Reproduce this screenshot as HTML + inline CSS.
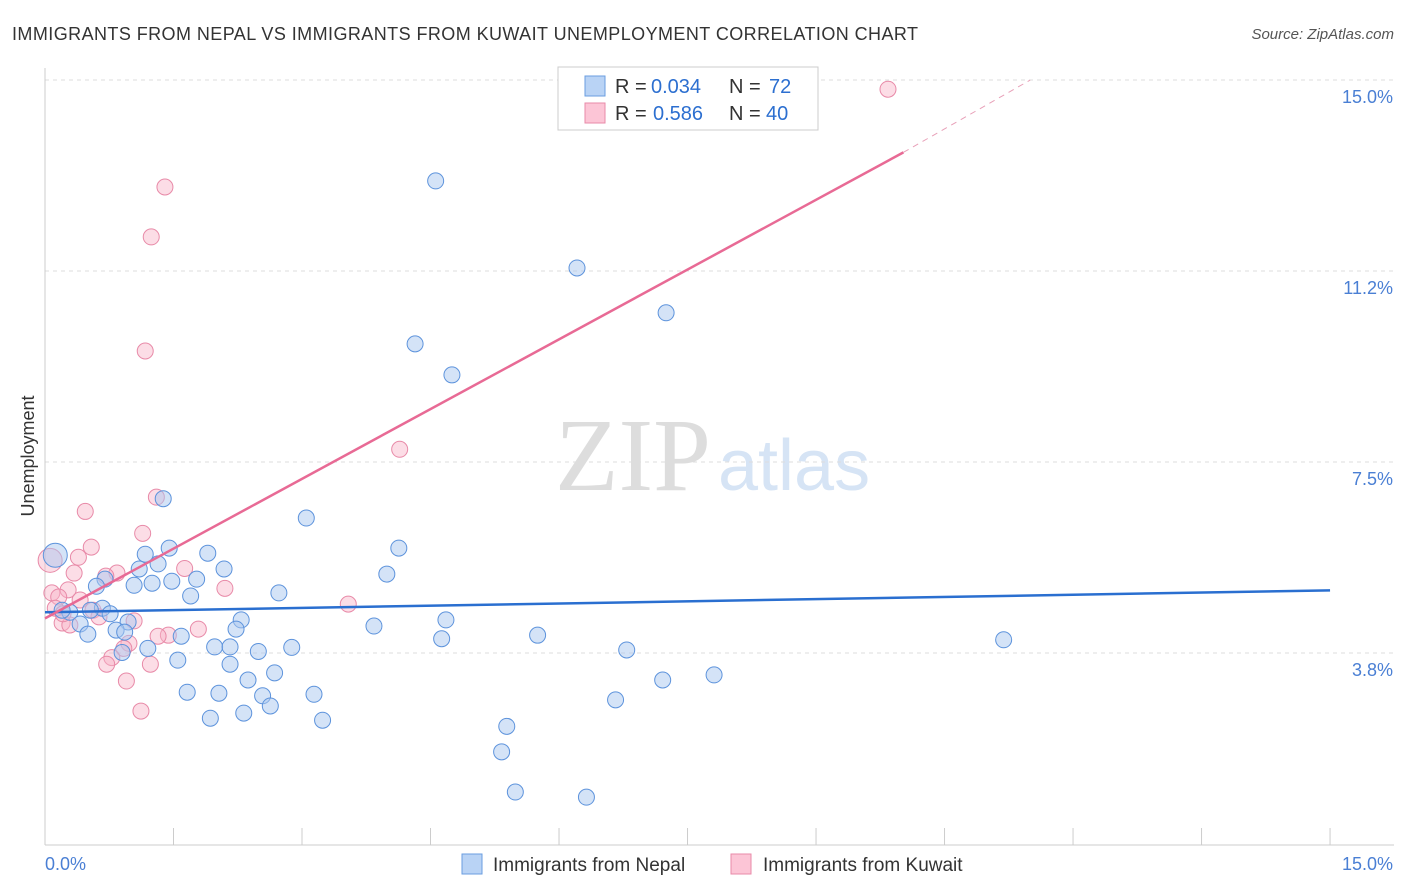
<!DOCTYPE html>
<html><head><meta charset="utf-8"><style>
body{margin:0;background:#fff;font-family:"Liberation Sans",sans-serif}
svg{display:block}
</style></head><body>
<svg id="c" width="1406" height="892">
<text x="12" y="40" font-size="18" fill="#333" textLength="906">IMMIGRANTS FROM NEPAL VS IMMIGRANTS FROM KUWAIT UNEMPLOYMENT CORRELATION CHART</text>
<text x="1394" y="39" font-size="15" fill="#555" text-anchor="end" font-style="italic">Source: ZipAtlas.com</text>
<text x="34" y="456" font-size="18" fill="#333" text-anchor="middle" transform="rotate(-90 34 456)">Unemployment</text>
<g><text x="555" y="490" font-size="104" fill="#ddd" font-family="Liberation Serif,serif">ZIP</text><text x="718" y="490" font-size="72" fill="#d6e4f5">atlas</text></g>
<g id="grid"></g><g id="pts"></g><g id="lines"></g>
<g>
<rect x="558" y="67" width="260" height="63" fill="#fff" stroke="#ccc"/>
<rect x="585" y="76" width="20" height="20" fill="#b9d3f5" stroke="#6a9ee0"/>
<rect x="585" y="103" width="20" height="20" fill="#fcc5d6" stroke="#e88aa8"/>
<text x="615" y="93" font-size="20" fill="#333">R =</text>
<text x="651" y="93" font-size="20" fill="#2c6fd0">0.034</text>
<text x="729" y="93" font-size="20" fill="#333">N =</text>
<text x="769" y="93" font-size="20" fill="#2c6fd0">72</text>
<text x="615" y="120" font-size="20" fill="#333">R =</text>
<text x="653" y="120" font-size="20" fill="#2c6fd0">0.586</text>
<text x="729" y="120" font-size="20" fill="#333">N =</text>
<text x="766" y="120" font-size="20" fill="#2c6fd0">40</text>
</g>
<g>
<rect x="462" y="854" width="20" height="20" fill="#b9d3f5" stroke="#6a9ee0"/>
<text x="493" y="871" font-size="19" fill="#333">Immigrants from Nepal</text>
<rect x="731" y="854" width="20" height="20" fill="#fcc5d6" stroke="#e88aa8"/>
<text x="763" y="871" font-size="19" fill="#333">Immigrants from Kuwait</text>
</g>
</svg>
<script>
const yTicks=[3.75,7.5,11.25,15];
const yTickLabels=["3.8%","7.5%","11.2%","15.0%"];
const xTickLabels=["0.0%","15.0%"];
const nepalX=[0.12,4.56,6.21,7.25,4.32,4.75,1.38,3.05,4.13,1.45,1.17,1.90,1.32,2.09,1.10,3.99,0.70,0.60,1.04,1.25,1.48,1.77,2.73,1.70,0.67,0.53,0.29,0.20,0.76,2.29,4.68,0.97,0.41,3.84,2.23,0.83,0.93,1.59,0.50,5.75,4.63,11.19,1.98,2.16,2.88,1.20,0.90,2.49,6.79,1.55,2.16,2.68,2.37,7.21,7.81,1.66,2.03,3.14,2.54,6.66,2.63,1.93,2.32,3.24,5.39,5.33,5.49,6.32];
const nepalY=[5.67,13.02,11.31,10.43,9.82,9.21,6.78,6.40,5.81,5.81,5.69,5.71,5.50,5.40,5.40,5.30,5.20,5.06,5.08,5.12,5.16,5.20,4.93,4.87,4.63,4.59,4.55,4.59,4.52,4.40,4.40,4.36,4.32,4.28,4.22,4.20,4.16,4.08,4.12,4.10,4.03,4.01,3.87,3.87,3.86,3.84,3.76,3.78,3.81,3.61,3.53,3.36,3.22,3.22,3.32,2.98,2.96,2.94,2.91,2.83,2.71,2.47,2.57,2.43,2.31,1.81,1.02,0.92];
const kuwaitX=[9.84,1.40,1.24,1.17,4.14,1.30,0.47,1.14,0.54,0.39,0.06,1.63,0.84,0.71,0.34,2.10,0.27,0.08,0.16,0.41,3.54,0.12,0.56,0.63,1.04,0.20,0.29,1.44,1.32,1.79,0.98,0.92,0.78,0.72,1.23,0.95,1.12,0.21];
const kuwaitY=[14.82,12.90,11.92,9.68,7.75,6.81,6.53,6.10,5.83,5.63,5.57,5.41,5.32,5.26,5.32,5.02,4.99,4.93,4.85,4.79,4.71,4.63,4.59,4.46,4.38,4.34,4.30,4.10,4.08,4.22,3.94,3.84,3.66,3.53,3.53,3.20,2.61,4.52];
const X=v=>45+v*85.67, Y=v=>844-v*50.93;
const NS="http://www.w3.org/2000/svg";
function mk(t,a,p){const e=document.createElementNS(NS,t);for(const k in a)e.setAttribute(k,a[k]);p.appendChild(e);return e;}
const g=document.getElementById('grid');
yTicks.forEach((t,i)=>{
 const l=mk('line',{x1:45,x2:1394,y1:Y(t),y2:Y(t),stroke:'#ddd','stroke-dasharray':'4,4'},g);
 
 
 const tx=mk('text',{x:1393,y:Y(t)+23,'font-size':18,fill:'#4a7fd4','text-anchor':'end'},g);
 tx.textContent=yTickLabels[i];
 
 
});
mk('line',{x1:45,x2:45,y1:68,y2:845,stroke:'#ccc'},g);
mk('line',{x1:45,x2:1394,y1:845,y2:845,stroke:'#ccc'},g);
for(let i=0;i<=10;i++){const l=mk('line',{x1:X(i*1.5),x2:X(i*1.5),y1:828,y2:845,stroke:'#ccc'},g);
 
 }
const t0=mk('text',{x:45,y:870,'font-size':18,fill:'#4a7fd4'},g);t0.textContent=xTickLabels[0];


const t1=mk('text',{x:1393,y:870,'font-size':18,fill:'#4a7fd4','text-anchor':'end'},g);t1.textContent=xTickLabels[1];


const p=document.getElementById('pts');
kuwaitX.forEach((x,i)=>{const c=mk('circle',{cx:X(x),cy:Y(kuwaitY[i]),r:i==10?12:8,fill:'rgba(248,180,200,0.45)',stroke:'#e88aa8','stroke-width':1},p);
 
 });
nepalX.forEach((x,i)=>{const c=mk('circle',{cx:X(x),cy:Y(nepalY[i]),r:i==0?12:8,fill:'rgba(170,200,240,0.5)',stroke:'#5d93dc','stroke-width':1},p);
 
 });
const L=document.getElementById('lines');
const b=mk('line',{x1:X(0),y1:Y(4.55),x2:X(15),y2:Y(4.98),stroke:'#2a6fd0','stroke-width':2.5},L);


const k=mk('line',{x1:X(0),y1:Y(4.43),x2:X(10.02),y2:Y(13.58),stroke:'#e86a95','stroke-width':2.5},L);


const kd=mk('line',{x1:X(10.02),y1:Y(13.58),x2:X(11.5),y2:Y(15),stroke:'#e8a0b8','stroke-width':1,'stroke-dasharray':'6,5'},L);


</script>
</body></html>
